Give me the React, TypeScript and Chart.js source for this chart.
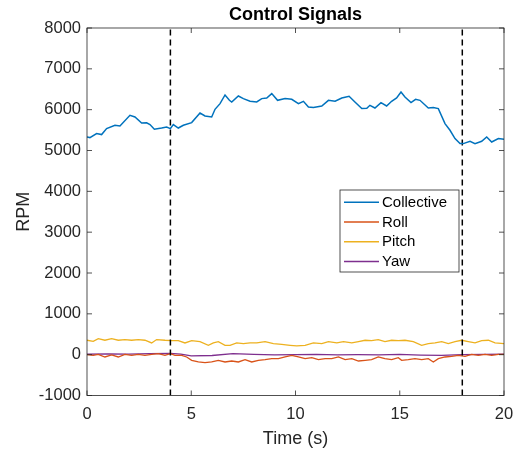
import React, { useEffect, useRef } from "react";
import { Chart, registerables } from "chart.js";
Chart.register(...registerables);

const FONT = '"Liberation Sans", Arial, Helvetica, sans-serif';

const chartTitle = "Control Signals";
const xTitle = "Time (s)";
const yTitle = "RPM";
const xMin = 0, xMax = 20, xStep = 5;
const yMin = -1000, yMax = 8000, yStep = 1000;
const eventTimes = [4, 18];

const seriesNames = ["Collective", "Roll", "Pitch", "Yaw"];
const seriesColors = ["#0072BD", "#D95319", "#EDB120", "#7E2F8E"];

const collectiveT = [0, 0.14, 0.46, 0.7, 0.94, 1.34, 1.58, 2.06, 2.3, 2.62, 2.86, 3.02, 3.23, 3.58, 3.82, 4.0, 4.14, 4.38, 4.62, 5.02, 5.42, 5.66, 5.98, 6.14, 6.38, 6.62, 6.83, 6.94, 7.26, 7.5, 7.82, 8.14, 8.38, 8.62, 8.86, 9.14, 9.5, 9.82, 10.14, 10.38, 10.62, 10.86, 11.26, 11.58, 11.9, 12.22, 12.57, 12.85, 13.18, 13.42, 13.57, 13.81, 14.1, 14.37, 14.61, 14.85, 15.06, 15.25, 15.54, 15.76, 15.97, 16.37, 16.61, 16.85, 17.17, 17.41, 17.65, 17.89, 18.05, 18.37, 18.61, 18.93, 19.17, 19.41, 19.73, 20];
const collectiveV = [5331, 5316, 5414, 5390, 5536, 5617, 5600, 5862, 5820, 5673, 5680, 5634, 5519, 5551, 5576, 5536, 5634, 5551, 5617, 5683, 5918, 5845, 5820, 6009, 6148, 6360, 6229, 6188, 6335, 6271, 6205, 6188, 6271, 6286, 6394, 6229, 6271, 6255, 6148, 6205, 6066, 6051, 6090, 6229, 6205, 6286, 6327, 6188, 6026, 6034, 6107, 6041, 6173, 6090, 6205, 6286, 6433, 6310, 6173, 6254, 6229, 6041, 6050, 6026, 5659, 5495, 5291, 5169, 5169, 5226, 5169, 5226, 5331, 5208, 5291, 5275];

const rollT = [0, 0.3, 0.54, 0.86, 1.18, 1.5, 1.82, 2.14, 2.46, 2.78, 3.1, 3.42, 3.74, 4.0, 4.22, 4.54, 4.78, 5.02, 5.34, 5.66, 5.98, 6.3, 6.62, 6.94, 7.26, 7.58, 7.9, 8.22, 8.54, 8.86, 9.18, 9.5, 9.82, 10.14, 10.46, 10.78, 11.1, 11.42, 11.74, 12.06, 12.38, 12.7, 13.02, 13.34, 13.65, 13.97, 14.29, 14.61, 14.93, 15.09, 15.41, 15.73, 16.05, 16.37, 16.61, 16.85, 17.17, 17.49, 17.81, 18.13, 18.45, 18.77, 19.09, 19.41, 19.73, 20];
const rollV = [0, -16, 8, -57, -8, -57, 8, -16, 8, -16, 8, 24, -16, 24, -16, -16, -57, -138, -179, -195, -179, -138, -179, -155, -179, -122, -179, -138, -122, -98, -98, -57, -16, -57, -98, -73, -122, -98, -98, -57, -122, -98, -155, -138, -122, -57, -98, -122, -73, -138, -122, -98, -122, -98, -179, -98, -57, -41, -16, -41, 8, -16, 8, -16, 8, 8];

const pitchT = [0, 0.3, 0.54, 0.86, 1.18, 1.5, 1.82, 2.14, 2.46, 2.78, 3.1, 3.34, 3.74, 4.06, 4.38, 4.7, 5.02, 5.42, 5.82, 6.06, 6.3, 6.62, 6.86, 7.18, 7.5, 7.82, 8.14, 8.54, 8.94, 9.34, 9.74, 10.06, 10.46, 10.86, 11.26, 11.58, 11.98, 12.3, 12.7, 13.02, 13.34, 13.65, 13.97, 14.29, 14.61, 14.93, 15.25, 15.65, 16.05, 16.37, 16.69, 17.01, 17.33, 17.65, 17.97, 18.29, 18.61, 18.93, 19.25, 19.57, 20];
const pitchV = [353, 328, 394, 353, 394, 353, 370, 353, 370, 353, 287, 370, 353, 345, 345, 287, 345, 320, 230, 287, 320, 230, 230, 287, 270, 287, 287, 320, 270, 254, 230, 213, 230, 287, 270, 320, 287, 320, 287, 320, 353, 345, 370, 320, 353, 345, 353, 320, 230, 270, 287, 320, 270, 320, 353, 320, 287, 345, 353, 287, 270];

const yawT = [0, 1, 2, 3, 4, 4.5, 5, 6, 7, 8, 9, 10, 11, 12, 13, 14, 15, 16, 17, 18, 19, 20];
const yawV = [10, 20, 15, 25, 30, 15, -30, -20, 25, 5, -5, 0, 5, -5, 0, -5, 5, -10, -15, 0, 5, 10];

const seriesT = [collectiveT, rollT, pitchT, yawT];
const seriesV = [collectiveV, rollV, pitchV, yawV];
const seriesWidths = [1.5, 1.3, 1.3, 1.3];

const axesPlugin = {
  id: "matlabAxes",
  afterDraw(chart: any) {
    const { ctx, chartArea: a, scales } = chart;
    const xs = scales.x, ys = scales.y;
    ctx.save();
    ctx.strokeStyle = "#262626";
    ctx.lineWidth = 0.8;
    ctx.strokeRect(a.left, a.top, a.right - a.left, a.bottom - a.top);
    const L = 5;
    ctx.beginPath();
    xs.ticks.forEach((t: any) => {
      const px = xs.getPixelForValue(t.value);
      ctx.moveTo(px, a.bottom); ctx.lineTo(px, a.bottom - L);
      ctx.moveTo(px, a.top); ctx.lineTo(px, a.top + L);
    });
    ys.ticks.forEach((t: any) => {
      const py = ys.getPixelForValue(t.value);
      ctx.moveTo(a.left, py); ctx.lineTo(a.left + L, py);
      ctx.moveTo(a.right, py); ctx.lineTo(a.right - L, py);
    });
    ctx.stroke();

    ctx.fillStyle = "#262626";
    ctx.font = `18px ${FONT}`;
    ctx.textAlign = "center";
    ctx.textBaseline = "middle";
    ctx.fillText(xTitle, (a.left + a.right) / 2, a.bottom + 44);
    ctx.save();
    ctx.translate(24, (a.top + a.bottom) / 2);
    ctx.rotate(-Math.PI / 2);
    ctx.fillText(yTitle, 0, 0);
    ctx.restore();

    // legend box
    const bx = a.left + 253, by = a.top + 162, bw = 119, bh = 82;
    ctx.fillStyle = "#ffffff";
    ctx.fillRect(bx, by, bw, bh);
    ctx.strokeStyle = "#262626";
    ctx.lineWidth = 0.8;
    ctx.strokeRect(bx, by, bw, bh);
    ctx.font = `15px ${FONT}`;
    ctx.textAlign = "left";
    seriesNames.forEach((name, i) => {
      const cy = by + 12.3 + i * 19.7;
      ctx.strokeStyle = seriesColors[i];
      ctx.lineWidth = 1.5;
      ctx.beginPath();
      ctx.moveTo(bx + 4, cy);
      ctx.lineTo(bx + 39, cy);
      ctx.stroke();
      ctx.fillStyle = "#000000";
      ctx.fillText(name, bx + 42, cy + 0.5);
    });
    ctx.restore();
  },
};

export default function App() {
  const ref = useRef<HTMLCanvasElement | null>(null);
  useEffect(() => {
    if (!ref.current) return;
    const datasets: any[] = seriesNames.map((name, i) => ({
      label: name,
      data: seriesT[i].map((t, j) => ({ x: t, y: seriesV[i][j] })),
      borderColor: seriesColors[i],
      backgroundColor: seriesColors[i],
      borderWidth: seriesWidths[i],
      pointRadius: 0,
      tension: 0,
      order: i,
    }));
    eventTimes.forEach((t) => {
      datasets.push({
        label: "",
        data: [{ x: t, y: yMin }, { x: t, y: yMax }],
        borderColor: "#000000",
        borderWidth: 1.5,
        borderDash: [6, 4],
        pointRadius: 0,
      });
    });
    const chart = new Chart(ref.current, {
      type: "line",
      data: { datasets },
      options: {
        animation: false,
        responsive: false,
        layout: { padding: { left: 0, right: 10, top: 0, bottom: 0 } },
        plugins: {
          legend: { display: false },
          tooltip: { enabled: false },
          title: {
            display: true,
            text: chartTitle,
            fullSize: false,
            color: "#000000",
            font: { family: FONT, size: 18, weight: "bold" },
            padding: { top: 4, bottom: 2.4 },
          },
        },
        scales: {
          x: {
            type: "linear",
            min: xMin,
            max: xMax,
            grid: { display: false, drawTicks: false },
            border: { display: false },
            ticks: {
              stepSize: xStep,
              autoSkip: false,
              maxRotation: 0,
              padding: 9.5,
              color: "#262626",
              font: { family: FONT, size: 16.5 },
              callback: (v: any) => String(v),
            },
            afterFit: (s: any) => { s.height = 57.5; s.paddingLeft = 0; s.paddingRight = 0; },
          },
          y: {
            type: "linear",
            min: yMin,
            max: yMax,
            grid: { display: false, drawTicks: false },
            border: { display: false },
            ticks: {
              stepSize: yStep,
              autoSkip: false,
              padding: 6,
              color: "#262626",
              font: { family: FONT, size: 16.5 },
              callback: (v: any) => String(v),
            },
            afterFit: (s: any) => { s.width = 87; s.paddingTop = 0; s.paddingBottom = 0; },
          },
        },
      } as any,
      plugins: [axesPlugin],
    });
    return () => chart.destroy();
  }, []);
  return (
    <div style={{ position: "fixed", left: 0, top: 0, width: 514, height: 453, background: "#ffffff" }}>
      <canvas ref={ref} width={514} height={453} style={{ display: "block" }} />
    </div>
  );
}
